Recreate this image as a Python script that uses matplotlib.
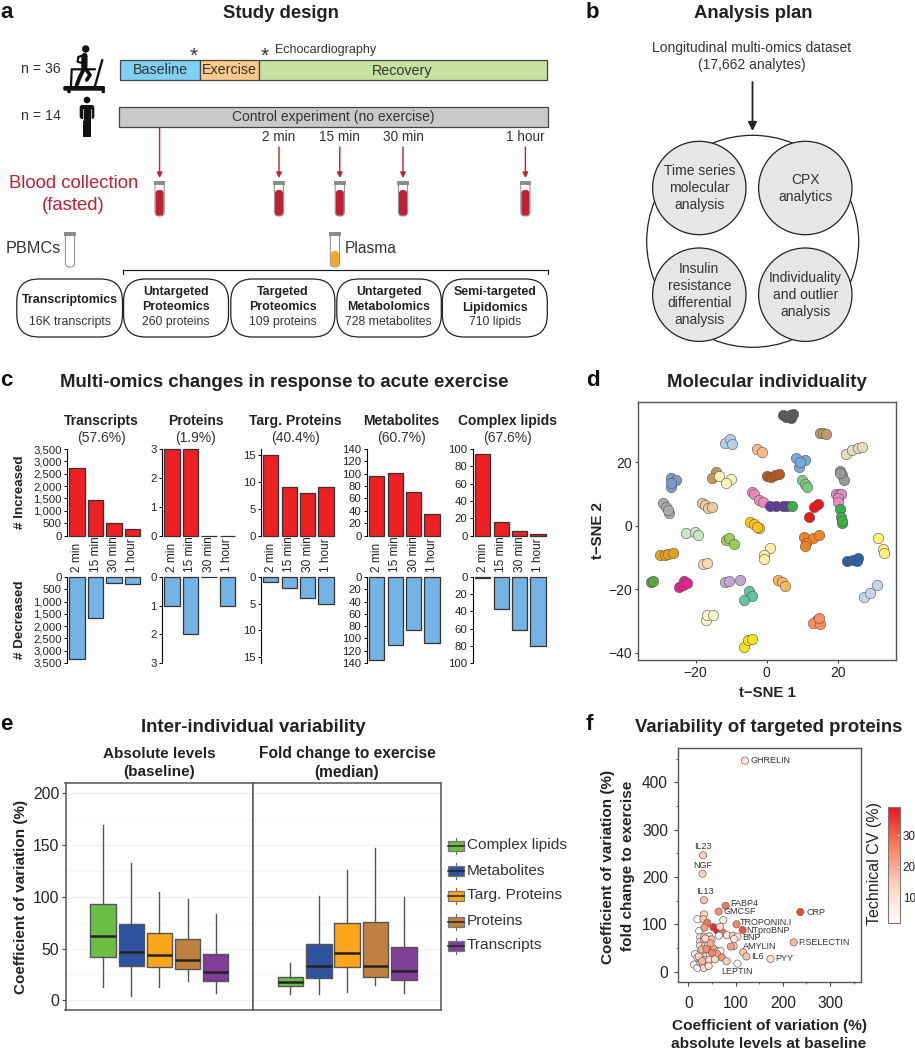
import matplotlib
matplotlib.use('Agg')
import matplotlib.pyplot as plt
from matplotlib.patches import Rectangle, Circle, Ellipse, FancyBboxPatch
from matplotlib.colors import LinearSegmentedColormap

plt.rcParams['font.family'] = ['Liberation Sans', 'DejaVu Sans']

W, H = 915, 1050

# panel c: bar counts
time_labels = ['2 min', '15 min', '30 min', '1 hour']
omics_names = ['Transcripts', 'Proteins', 'Targ. Proteins', 'Metabolites', 'Complex lipids']
omics_pct = ['(57.6%)', '(1.9%)', '(40.4%)', '(60.7%)', '(67.6%)']
increased = [[2750, 1430, 490, 280], [3, 3, 0, 0], [15, 9, 8, 9], [96, 101, 71, 35], [94, 16, 5, 2]]
decreased = [[3350, 1680, 230, 300], [1, 2, 0, 1], [1, 2, 4, 5], [135, 110, 87, 108], [1, 37, 62, 80]]
omics_ticks = [list(range(0, 3501, 500)), [0, 1, 2, 3], [0, 5, 10, 15],
               list(range(0, 141, 20)), list(range(0, 101, 20))]

# panel d: t-SNE clusters
tsne_x = [[4.5, 5.4, 6.8, 7.3, 6.6], [15, 15.8, 16.7], [22.3, 24.1, 25.6, 26.9], [-11.7, -10.4, -9.7],
          [-2.7, -1.2], [8.3, 10.9, 9.1, 9.4], [20.7, 21.2, 21.9, 20.7], [0, 1.1, 2.3, 3.4],
          [-14.2, -15.5], [-13.3, -10.1, -11.5], [-27, -25.5, -27, -27], [9.8, 10.7, 11.3],
          [-4.1, -3.5, -2.1, -1.1], [19.4, 20.4, 21, 20, 20.2], [0.9, 2.6, 4.5, 5.6], [7],
          [20.5, 20.8, 21.1, 21.1], [14.3, 13.3, 12], [-29.1, -28.4, -27.5, -27.9],
          [-18.3, -17.4, -16.4, -15.5], [-4.7, -3.6, -2.1, -2.8], [-22.8, -20.2, -19.4],
          [-11.5, -10.5, -9.1], [10.4, 12.9, 14.7, 11.1, 10.8], [31.4, 32.6, 33.1], [0.9, -0.7, -0.9],
          [-30, -28.6, -27.7, -26.3], [22.6, 24.4, 25.8, 25.4], [-18, -16.7], [-32.7, -31.9],
          [-23.3, -24.6, -23.5, -22.3], [-11.7, -10.6, -7.5], [3.2, 4.2, 5.2], [-4.9, -4, -6.3],
          [27.5, 31, 29.1], [-17.1, -16.9, -15.2], [14.1, 13.1, 15, 14.6], [-6.5, -5.2, -4.2]]
tsne_y = [[34.9, 34.1, 33.9, 35.2, 34.7], [29.2, 29.1, 28.9], [22.4, 23.7, 24.4, 24.8], [26.1, 27.1, 25.7],
          [24.1, 23.1], [21.2, 20.7, 18.5, 19.9], [17.1, 16, 14.4, 16.7], [15.7, 15.2, 16, 16.2],
          [17, 15], [15.6, 14.7, 13.3], [15.1, 14.4, 12.3, 13.3], [14.5, 13.2, 12.1],
          [10.6, 9.9, 8.1, 7.5], [9.9, 10, 10, 8.6, 7.3], [6.3, 6.2, 6.1, 6.2], [6.2],
          [5.2, 2.6, 0.9, 1.6], [6.7, 5.9, 2.6], [7, 6, 3.9, 4.9],
          [7, 6.5, 5.5, 6], [1.2, 0.5, -0.8, -0.3], [-2.4, -1.9, -2.9],
          [-4.5, -4, -5.9], [-3.7, -4, -3.1, -5.4, -6.4], [-4, -7.3, -8.5], [-7.1, -9.2, -10.4],
          [-9.2, -9.2, -9, -8.7], [-11.1, -10.8, -10.3, -11], [-12.1, -11.9], [-17.8, -17.5],
          [-17.4, -19.2, -18.7, -18.2], [-17.8, -17.3, -17.1], [-17.1, -17.9, -18.9], [-20.5, -22.1, -23.4],
          [-22.4, -18.7, -21.1], [-29.7, -28.1, -28.2], [-29.7, -30.7, -31.1, -29.2], [-38.1, -36, -35.8]]
tsne_colors = ['#5a5a5a', '#bf9a6b', '#e5dcc0', '#b3cde8', '#fdb98a', '#74a9d8', '#999999', '#b5591f',
               '#c9935f', '#fbf3b5', '#7f99cb', '#7fc97f', '#e78ab5', '#e78ac3', '#5e3c99', '#3fae49',
               '#3fae49', '#e41a1c', '#aaaaaa', '#e8c9a0', '#fdc412', '#c8e6c4', '#9ccb5b', '#f58220',
               '#fff176', '#faf0a8', '#e5a11a', '#2a5fa8', '#fad6b0', '#5aa63a', '#e7208e', '#c2a5cf',
               '#fdb462', '#66c2a5', '#c6d4ec', '#fdf8cc', '#fb8d62', '#f5e11a']

# panel e: box summaries
box_names = ['Complex lipids', 'Metabolites', 'Targ. Proteins', 'Proteins', 'Transcripts']
box_colors = ['#6cbd45', '#2f52a0', '#faa61a', '#bf8040', '#7f3f98']
abs_q1 = [42, 33, 32, 30, 18.6]
abs_med = [62, 46.6, 43.4, 39, 27.3]
abs_q3 = [93, 74, 64.6, 59, 44.7]
abs_lo = [13, 4.5, 13, 19, 7]
abs_hi = [169, 133, 105, 98, 83]
fc_q1 = [14, 22, 32.5, 23, 19.6]
fc_med = [17.7, 32.8, 45.3, 33.4, 28.3]
fc_q3 = [23, 54, 74.6, 75.9, 51.8]
fc_lo = [6.4, 6.4, 8, 14.8, 7]
fc_hi = [35.7, 101, 125.7, 147, 100]

# panel f: targeted proteins
named_proteins = ['GHRELIN', 'IL23', 'NGF', 'IL13', 'FABP4', 'GMCSF', 'CRP', 'TROPONIN.I', 'NTproBNP',
                  'BNP', 'AMYLIN', 'P.SELECTIN', 'IL6', 'PYY', 'LEPTIN']
named_x = [120, 31, 30, 33, 79, 64, 237, 102, 115, 97, 90, 223, 123, 174, 104]
named_y = [446, 246, 207, 151, 139, 127, 126, 100, 88, 69, 53, 62, 32, 27, 17]
named_cv = [8, 14, 14, 17, 27, 24, 33, 25, 32, 8, 22, 18, 16, 10, 3]
other_x = [116, 33, 19, 32, 40, 74, 23, 34, 53, 61, 73, 67, 65, 82, 94, 104, 96, 25, 33, 44, 25, 32, 40, 49,
           25, 35, 42, 53, 63, 68, 42, 32, 25, 14, 19, 30, 37, 46, 54, 61, 71, 81, 12, 19, 25, 30, 33, 40,
           25, 35, 44, 56, 28, 38, 47, 22, 36, 50, 29, 43]
other_y = [41, 121, 111, 111, 103, 109, 86, 93, 94, 87, 83, 95, 76, 77, 76, 74, 54, 73, 74, 75, 63, 63, 67, 68,
           54, 55, 56, 49, 44, 44, 44, 42, 40, 37, 30, 37, 32, 35, 33, 37, 30, 22, 15, 8, 19, 15, 8, 18,
           28, 25, 25, 26, 47, 48, 60, 32, 70, 40, 22, 12]
other_cv = [16, 14, 2, 16, 28, 7, 2, 22, 36, 38, 28, 10, 4, 9, 14, 8, 14, 10, 18, 14, 10, 20, 16, 16,
            8, 16, 8, 20, 18, 6, 22, 12, 10, 2, 3, 14, 12, 3, 16, 22, 24, 14, 6, 4, 12, 16, 12, 10,
            14, 16, 12, 12, 18, 24, 20, 14, 12, 26, 18, 10]

fig = plt.figure(figsize=(W / 100, H / 100), dpi=100)


def px_axes(left, top, right, bottom):
    return fig.add_axes([left / W, 1 - bottom / H, (right - left) / W, (bottom - top) / H])


# overlay in pixel coordinates for the schematic parts and free text
ov = fig.add_axes([0, 0, 1, 1], zorder=5)
ov.set_xlim(0, W)
ov.set_ylim(H, 0)
ov.axis('off')


def txt(x, y, s, size=9, weight='normal', color='#222222', ha='center', rot=0):
    ov.text(x, y, s, fontsize=size, fontweight=weight, color=color, ha=ha, va='center', rotation=rot)


for x, y, s in [(0, 12, 'a'), (586, 12, 'b'), (0, 380, 'c'), (586, 380, 'd'), (0, 725, 'e'), (586, 725, 'f')]:
    txt(x, y, s, 16, 'bold', '#111111', 'left')

# --- a: study design
txt(281, 14, 'Study design', 13.3, 'bold')
for x0, x1, col, lab, cx in [(119.8, 199.8, '#7fd0f2', 'Baseline', 160), (199.8, 259, '#fcc98a', 'Exercise', 229.6),
                             (259, 546.5, '#c6e2a0', 'Recovery', 402.6)]:
    ov.add_patch(Rectangle((x0, 60), x1 - x0, 20, fc=col, ec='#444444', lw=0.9))
    txt(cx, 70.5, lab, 10.3, color='#333333')
ov.add_patch(Rectangle((119, 107), 429.4, 20, fc='#c8c9cb', ec='#444444', lw=0.9))
txt(333.7, 117.5, 'Control experiment (no exercise)', 10, color='#333333')
txt(194, 56.5, '*', 15, color='#333333')
txt(265, 56.5, '*', 15, color='#333333')
txt(275.5, 50, 'Echocardiography', 9, color='#333333', ha='left')
txt(40.6, 69, 'n = 36', 10.2, color='#333333')
txt(40.6, 116, 'n = 14', 10.2, color='#333333')

# treadmill and person icons
ink = '#111111'
ov.add_patch(FancyBboxPatch((63.3, 86), 41.7, 4.7, boxstyle='round,pad=0,rounding_size=1.5', fc=ink, ec='none'))
ov.add_patch(Circle((69, 91.5), 1.8, fc=ink, ec='none'))
ov.add_patch(Circle((103.3, 91.5), 1.8, fc=ink, ec='none'))
ov.plot([71, 71.7, 95], [86, 69.3, 69.3], color=ink, lw=1.6, solid_capstyle='round')
ov.plot([95, 102.3], [86, 60], color=ink, lw=1.7, solid_capstyle='round')
ov.add_patch(Circle((85.7, 49), 3.7, fc=ink, ec='none'))
ov.plot([84.5, 84.3], [56, 67], color=ink, lw=4.5, solid_capstyle='round')
ov.plot([84.3, 80, 76.7], [68, 76.7, 85], color=ink, lw=2.8, solid_capstyle='round')
ov.plot([85, 90, 86.7], [68, 75, 80], color=ink, lw=2.6, solid_capstyle='round')
ov.plot([83, 78.3, 77.7, 84], [55.5, 57, 61.7, 63.5], color=ink, lw=1.6, solid_capstyle='round')
ov.add_patch(Circle((87, 100), 3.3, fc=ink, ec='none'))
ov.add_patch(FancyBboxPatch((79.7, 105), 14.6, 14, boxstyle='round,pad=0,rounding_size=2.5', fc=ink, ec='none'))
ov.add_patch(Rectangle((82.6, 118), 4, 19, fc=ink, ec='none'))
ov.add_patch(Rectangle((87.4, 118), 4, 19, fc=ink, ec='none'))
ov.plot([82.6, 82.6], [109, 119.5], color='white', lw=0.5)
ov.plot([91.4, 91.4], [109, 119.5], color='white', lw=0.5)

# blood tubes
red = '#c11f33'


def tube(x, top, bottom, fill_top, fill):
    ov.add_patch(FancyBboxPatch((x - 4.6, top), 9.2, bottom - top, boxstyle='round,pad=0,rounding_size=4',
                                fc='white', ec='#888888', lw=0.7))
    if fill is not None:
        ov.add_patch(FancyBboxPatch((x - 4, fill_top), 8, bottom - fill_top - 0.4,
                                    boxstyle='round,pad=0,rounding_size=3.6', fc=fill, ec='none'))
    ov.add_patch(Rectangle((x - 5.7, top - 1), 11.4, 4, fc='#8c8c8c', ec='none'))


tube_x = [159.6, 279, 339.8, 403, 525.4]
for i, x in enumerate(tube_x):
    start = 128 if i == 0 else 147
    ov.annotate('', xy=(x, 178), xytext=(x, start),
                arrowprops=dict(arrowstyle='-|>', color=red, lw=1, mutation_scale=8, shrinkA=0, shrinkB=0))
    tube(x, 182, 216, 190, red)
for x, lab in zip(tube_x[1:], time_labels):
    txt(x, 137, lab, 9.8, color='#333333')
txt(73.5, 183, 'Blood collection', 13.3, color=red)
txt(73.5, 205, '(fasted)', 13.3, color=red)
tube(70, 233, 267, 0, None)
tube(334.9, 233, 267, 251, '#f5a623')
txt(33.7, 248.5, 'PBMCs', 11.7, color='#333333')
txt(345.2, 248.5, 'Plasma', 11.2, color='#333333', ha='left')
ov.plot([122.5, 122.5, 547.6, 547.6], [273.5, 270, 270, 273.5], color='#222222', lw=0.9)

for x0, x1 in [(16.8, 122.5), (123.6, 228.5), (230.8, 334.9), (336.8, 441.3), (442.4, 547.3)]:
    ov.add_patch(FancyBboxPatch((x0, 279), x1 - x0, 58, boxstyle='round,pad=0,rounding_size=22',
                                fc='white', ec='#222222', lw=0.9))
txt(70, 300, 'Transcriptomics', 8.9, 'bold')
txt(70, 322, '16K transcripts', 8.85, color='#333333')
for x, a, b, c in [(176, 'Untargeted', 'Proteomics', '260 proteins'), (282.8, 'Targeted', 'Proteomics', '109 proteins'),
                   (388.8, 'Untargeted', 'Metabolomics', '728 metabolites'), (494.8, 'Semi-targeted', 'Lipidomics', '710 lipids')]:
    txt(x, 292.5, a, 8.9, 'bold')
    txt(x, 307.5, b, 8.9, 'bold')
    txt(x, 322, c, 8.85, color='#333333')

# --- b: analysis plan
txt(753, 14, 'Analysis plan', 13.3, 'bold')
txt(752, 48, 'Longitudinal multi-omics dataset', 10, color='#333333')
txt(752, 65, '(17,662 analytes)', 10, color='#333333')
ov.annotate('', xy=(752.5, 131), xytext=(752.5, 82),
            arrowprops=dict(arrowstyle='-|>', color='#222222', lw=1.3, mutation_scale=13, shrinkA=0, shrinkB=0))
ov.add_patch(Ellipse((752.7, 241.3), 212, 212, fc='white', ec='#222222', lw=0.9))
for cx, cy, lines in [(699.3, 188, ['Time series', 'molecular', 'analysis']), (805.3, 188, ['CPX', 'analytics']),
                      (699.3, 294.7, ['Insulin', 'resistance', 'differential', 'analysis']),
                      (805.3, 294.7, ['Individuality', 'and outlier', 'analysis'])]:
    ov.add_patch(Circle((cx, cy), 46.7, fc='#e6e6e6', ec='#222222', lw=0.9))
    for j, line in enumerate(lines):
        txt(cx, cy + (j - (len(lines) - 1) / 2) * 17, line, 10, color='#333333')

# --- c: bar panels
txt(284.7, 382.7, 'Multi-omics changes in response to acute exercise', 13.45, 'bold')
axis_left = [67, 161.9, 260.6, 366.6, 472.6]
head_x = [101.4, 196, 295.4, 401, 507]
step = 18.45
for k in range(5):
    txt(head_x[k], 420.7, omics_names[k], 10, 'bold')
    txt(head_x[k], 437.7, omics_pct[k], 10, color='#333333')
    left = axis_left[k]
    right = left + step * 4.05
    top_max = omics_ticks[k][-1]
    if k == 2:
        top_max = 16.1
    for vals, row, col in [(increased[k], 'up', '#ee2024'), (decreased[k], 'down', '#74b3e3')]:
        if row == 'up':
            ax = px_axes(left, 449, right, 535.5)
            ax.set_ylim(0, top_max)
        else:
            ax = px_axes(left, 577, right, 663)
            ax.set_ylim(top_max, 0)
        ax.patch.set_visible(False)
        ax.bar(range(4), vals, width=0.83, color=col, edgecolor='#333333', linewidth=0.9, clip_on=False)
        ax.set_xlim(-0.55, 3.5)
        ax.set_xticks([])
        ax.set_yticks(omics_ticks[k])
        ax.set_yticklabels([f'{t:,}' for t in omics_ticks[k]], fontsize=8.2, color='#222222')
        ax.tick_params(axis='y', length=2.4, width=0.7, pad=1.2)
        for s in ['top', 'right', 'bottom']:
            ax.spines[s].set_visible(False)
        ax.spines['left'].set_linewidth(0.8)
        if row == 'up':
            for i, lab in enumerate(time_labels):
                ax.annotate(lab, xy=(i, 0), xycoords=('data', 'axes fraction'), xytext=(0, -26.4),
                            textcoords='offset points', rotation=90, ha='center', va='bottom',
                            fontsize=8.6, color='#222222', annotation_clip=False)
txt(20, 492, '# Increased', 9.6, 'bold', rot=90)
txt(20, 620, '# Decreased', 9.6, 'bold', rot=90)

# --- d: t-SNE
txt(767, 382.7, 'Molecular individuality', 13.4, 'bold')
ax = px_axes(638.3, 402.3, 896, 660)
for xs, ys, col in zip(tsne_x, tsne_y, tsne_colors):
    ax.scatter(xs, ys, s=56, color=col, edgecolor='#555555', linewidth=0.4)
ax.set_xlim(-36.15, 36.4)
ax.set_ylim(-42.3, 38.8)
ax.set_xticks([-20, 0, 20])
ax.set_yticks([-40, -20, 0, 20])
ax.set_xticklabels(['\u221220', '0', '20'])
ax.set_yticklabels(['\u221240', '\u221220', '0', '20'])
ax.tick_params(labelsize=10, length=2.5, width=0.8, color='#444444', pad=2, labelcolor='#222222')
for s in ax.spines.values():
    s.set_color('#555555')
    s.set_linewidth(1)
txt(767, 693, 't\u2212SNE 1', 10.8, 'bold')
txt(598, 531, 't\u2212SNE 2', 10.8, 'bold', rot=90)

# --- e: box plots
txt(253, 727.7, 'Inter-individual variability', 13.4, 'bold')
txt(159, 753.7, 'Absolute levels', 11, 'bold')
txt(159, 772, '(baseline)', 11, 'bold')
txt(347, 753.7, 'Fold change to exercise', 11.2, 'bold')
txt(347, 772, '(median)', 11.2, 'bold')
txt(20.7, 897, 'Coefficient of variation (%)', 11, 'bold', rot=90)
rects = [(65.5, 252.7), (252.7, 441)]
rows = [(abs_q1, abs_med, abs_q3, abs_lo, abs_hi), (fc_q1, fc_med, fc_q3, fc_lo, fc_hi)]
for p, (rect, row) in enumerate(zip(rects, rows)):
    ax = px_axes(rect[0], 782.7, rect[1], 1010)
    stats = [dict(med=row[1][i], q1=row[0][i], q3=row[2][i], whislo=row[3][i], whishi=row[4][i], fliers=[])
             for i in range(5)]
    bp = ax.bxp(stats, positions=range(5), widths=0.9, patch_artist=True, showcaps=False, showfliers=False,
                boxprops=dict(edgecolor='#555555', linewidth=1),
                whiskerprops=dict(color='#555555', linewidth=1),
                medianprops=dict(color='#222222', linewidth=1.8, solid_capstyle='butt'))
    for b, col in zip(bp['boxes'], box_colors):
        b.set_facecolor(col)
    ax.set_xlim(-1.33, 5.31)
    ax.set_ylim(-9.3, 210)
    ax.set_xticks([])
    ax.set_yticks([0, 50, 100, 150, 200])
    ax.set_yticks([25, 75, 125, 175], minor=True)
    ax.grid(axis='y', which='major', color='#f0f0f0', lw=1)
    ax.grid(axis='y', which='minor', color='#f5f5f5', lw=0.7)
    ax.set_axisbelow(True)
    ax.tick_params(axis='y', which='minor', length=0)
    if p == 0:
        ax.tick_params(axis='y', labelsize=11.3, length=3, width=0.8, color='#444444', pad=1.5, labelcolor='#222222')
    else:
        ax.tick_params(axis='y', which='major', length=0, labelleft=False)
    for s in ax.spines.values():
        s.set_color('#555555')
        s.set_linewidth(1.1)

legend_y = [846, 871.3, 896, 921.7, 946]
for y, name, col in zip(legend_y, box_names, box_colors):
    ov.plot([455.8, 455.8], [y - 8, y + 8], color='#666666', lw=0.8)
    ov.add_patch(Rectangle((448, y - 5), 15.6, 10, fc=col, ec='#777777', lw=0.9, zorder=3))
    ov.plot([448, 463.6], [y, y], color='#222222', lw=1.1, zorder=4)
    txt(467, y - 0.5, name, 11.1, color='#333333', ha='left')

# --- f: scatter
txt(769, 728, 'Variability of targeted proteins', 13.4, 'bold')
ax = px_axes(677.7, 748.3, 860.7, 982.3)
cmap = LinearSegmentedColormap.from_list('cv', ['#ffffff', '#fdd0bd', '#fb7c5c', '#e8141c'])
ax.scatter(other_x, other_y, c=other_cv, cmap=cmap, vmin=1.8, vmax=39.2, s=27, edgecolor='#666666', linewidth=0.5)
sc = ax.scatter(named_x, named_y, c=named_cv, cmap=cmap, vmin=1.8, vmax=39.2, s=27, edgecolor='#666666', linewidth=0.5)
# label offsets in pixels from the point
offsets = [(5, 0, 'left'), (0, 8.7, 'center'), (0, 7.7, 'center'), (1, 8.7, 'center'), (4.3, 2.5, 'left'),
           (4.7, 0, 'left'), (6.3, 0, 'left'), (3.3, 2, 'left'), (4, 0, 'left'), (8.3, 1.2, 'left'),
           (11.7, 0.5, 'left'), (5, 0, 'left'), (4.3, 0, 'left'), (5, 0, 'left'), (0, -8.3, 'center')]
for name, x, y, off in zip(named_proteins, named_x, named_y, offsets):
    ax.annotate(name, xy=(x, y), xytext=(off[0] * 0.72, off[1] * 0.72), textcoords='offset points',
                ha=off[2], va='center', fontsize=6.5, color='#333333')
ax.set_xlim(-22.6, 365)
ax.set_ylim(-22.5, 472)
ax.set_xticks([0, 100, 200, 300])
ax.set_xticks([50, 150, 250, 350], minor=True)
ax.set_yticks([0, 100, 200, 300, 400])
ax.set_yticks([50, 150, 250, 350, 450], minor=True)
ax.tick_params(labelsize=11.2, length=3, width=0.8, color='#444444', pad=4, labelcolor='#222222')
ax.tick_params(axis='x', pad=7)
ax.tick_params(which='minor', length=1.5, width=0.6, color='#444444')
for s in ax.spines.values():
    s.set_color('#555555')
    s.set_linewidth(1)
txt(608, 867, 'Coefficient of variation (%)', 11, 'bold', rot=90)
txt(628, 866, 'fold change to exercise', 11, 'bold', rot=90)
txt(769, 1026, 'Coefficient of variation (%)', 11.1, 'bold')
txt(769, 1044, 'absolute levels at baseline', 11.1, 'bold')

cax = px_axes(888.3, 806.7, 900, 923.3)
cb = fig.colorbar(sc, cax=cax)
cb.set_ticks([10, 20, 30])
cb.ax.tick_params(labelsize=8.4, length=2, width=0.5, color='white', direction='in', pad=2, labelcolor='#222222')
cb.outline.set_edgecolor('#777777')
cb.outline.set_linewidth(0.8)
txt(875, 863.3, 'Technical CV (%)', 11.5, color='#222222', rot=90)

plt.savefig('out.png', dpi=100)
